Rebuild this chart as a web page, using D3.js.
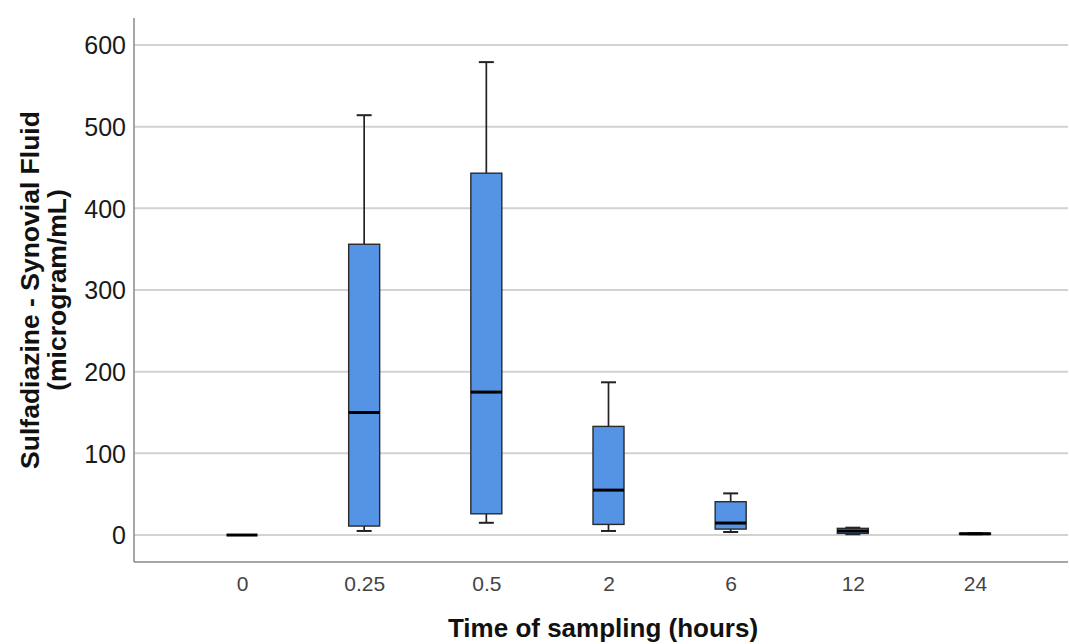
<!DOCTYPE html>
<html>
<head>
<meta charset="utf-8">
<script src="https://cdn.jsdelivr.net/npm/d3@7"></script>
<style>
  body { margin: 0; background: #fff; }
  svg { display: block; }
</style>
</head>
<body>
<svg id="chart"></svg>
<script>
// Sulfadiazine in synovial fluid, per sampling time
const times = ['0', '0.25', '0.5', '2', '6', '12', '24'];
const whiskerLow = [0, 5, 15, 5, 3.7, 1, 1];
const q1 = [0, 11, 26, 13, 7.3, 2, 1];
const medians = [0, 150, 175, 55, 14.7, 4.9, 1.5];
const q3 = [0, 356, 443, 133, 40.8, 8.2, 2.3];
const whiskerHigh = [0, 514, 579, 187, 51, 9, 2.5];
const yTicks = [0, 100, 200, 300, 400, 500, 600];

const width = 1069;
const height = 644;
const margin = {top: 18, right: 1, bottom: 82, left: 134};
const font = 'Liberation Sans, Arial, sans-serif';

const svg = d3.select('#chart')
    .attr('width', width)
    .attr('height', height);

const x = d3.scalePoint()
    .domain(times)
    .range([242, 975]);

const y = d3.scaleLinear()
    .domain([-33, 633])
    .range([height - margin.bottom, margin.top]);

const boxWidth = 31;
const capWidth = 15;

// gridlines
svg.append('g')
    .selectAll('line')
    .data(yTicks)
    .join('line')
    .attr('x1', margin.left)
    .attr('x2', width - margin.right)
    .attr('y1', d => y(d))
    .attr('y2', d => y(d))
    .attr('stroke', '#d2d2d2')
    .attr('stroke-width', 2);

// y axis
const yAxis = svg.append('g')
    .attr('transform', `translate(${margin.left},0)`)
    .call(d3.axisLeft(y).tickValues(yTicks).tickSize(0).tickPadding(8));
yAxis.select('.domain').remove();
yAxis.selectAll('text')
    .attr('font-family', font)
    .attr('font-size', '25px')
    .attr('dy', '0.35em')
    .attr('fill', '#1a1a1a');

svg.append('line')
    .attr('x1', margin.left)
    .attr('x2', margin.left)
    .attr('y1', margin.top)
    .attr('y2', height - margin.bottom)
    .attr('stroke', '#8a8a8a')
    .attr('stroke-width', 1.5);

// x axis
const xAxis = svg.append('g')
    .attr('transform', `translate(0,${height - margin.bottom})`)
    .call(d3.axisBottom(x).tickSize(0).tickPadding(14));
xAxis.select('.domain').remove();
xAxis.selectAll('text')
    .attr('font-family', font)
    .attr('font-size', '21px')
    .attr('fill', '#444');

svg.append('line')
    .attr('x1', margin.left)
    .attr('x2', width - margin.right)
    .attr('y1', height - margin.bottom)
    .attr('y2', height - margin.bottom)
    .attr('stroke', '#8a8a8a')
    .attr('stroke-width', 1.5);

// boxes
const boxes = svg.append('g')
    .selectAll('g')
    .data(times)
    .join('g')
    .attr('transform', d => `translate(${x(d)},0)`);

boxes.each(function (t, i) {
    const g = d3.select(this);
    if (whiskerHigh[i] - whiskerLow[i] > 0) {
        // whisker stems
        g.append('line')
            .attr('y1', y(q3[i]))
            .attr('y2', y(whiskerHigh[i]))
            .attr('stroke', '#222')
            .attr('stroke-width', 1.7);
        g.append('line')
            .attr('y1', y(q1[i]))
            .attr('y2', y(whiskerLow[i]))
            .attr('stroke', '#222')
            .attr('stroke-width', 1.7);
        // caps
        [whiskerHigh[i], whiskerLow[i]].forEach(v => {
            g.append('line')
                .attr('x1', -capWidth / 2)
                .attr('x2', capWidth / 2)
                .attr('y1', y(v))
                .attr('y2', y(v))
                .attr('stroke', '#222')
                .attr('stroke-width', 2);
        });
        g.append('rect')
            .attr('x', -boxWidth / 2)
            .attr('width', boxWidth)
            .attr('y', y(q3[i]))
            .attr('height', y(q1[i]) - y(q3[i]))
            .attr('fill', '#5593e4')
            .attr('stroke', '#2a2a2a')
            .attr('stroke-width', 1.4);
    }
    // median
    g.append('line')
        .attr('x1', -boxWidth / 2)
        .attr('x2', boxWidth / 2)
        .attr('y1', y(medians[i]))
        .attr('y2', y(medians[i]))
        .attr('stroke', '#000')
        .attr('stroke-width', 3);
});

// axis titles
const yTitle = svg.append('text')
    .attr('transform', 'translate(0,290) rotate(-90)')
    .attr('text-anchor', 'middle')
    .attr('font-family', font)
    .attr('font-size', '26.5px')
    .attr('font-weight', 'bold')
    .attr('fill', '#111');
yTitle.append('tspan')
    .attr('x', 0)
    .attr('y', 39)
    .text('Sulfadiazine - Synovial Fluid');
yTitle.append('tspan')
    .attr('x', 0)
    .attr('y', 66)
    .text('(microgram/mL)');

svg.append('text')
    .attr('x', 603)
    .attr('y', 637)
    .attr('text-anchor', 'middle')
    .attr('font-family', font)
    .attr('font-size', '26px')
    .attr('font-weight', 'bold')
    .attr('fill', '#111')
    .text('Time of sampling (hours)');
</script>
</body>
</html>
